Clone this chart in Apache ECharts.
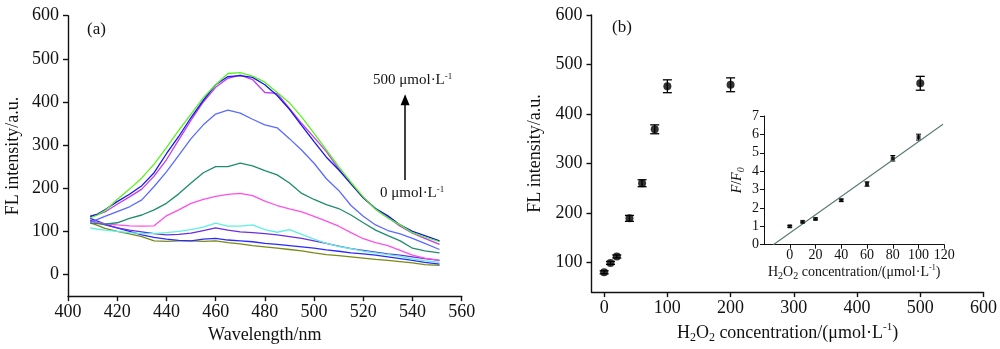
<!DOCTYPE html>
<html>
<head>
<meta charset="utf-8">
<script src="https://cdn.jsdelivr.net/npm/echarts@6/dist/echarts.min.js"></script>
<style>
  html, body { margin: 0; padding: 0; background: #fff; }
  #chart { width: 1000px; height: 349px; }
</style>
</head>
<body>
<div id="chart"></div>
<script>
// ---- Panel (a): fluorescence spectra ----
const wavelength = [409,412,415,420,425,430,435,440,445,450,455,460,465,470,475,480,485,490,495,500,505,510,515,520,525,530,535,540,545,551];

const olive     = [120,114,107,100,94,88,78,77,78,78,77,78,74,71,67,64,61,58,55,50,46,44,41,38,35,33,30,27,23,21];
const blueLow   = [130,124,117,108,100,92,86,82,79,78,82,84,80,78,76,72,70,67,64,61,57,54,50,48,45,41,37,33,28,24];
const violetLow = [126,120,115,108,103,99,95,92,93,96,102,108,103,99,97,95,92,88,84,78,72,66,60,56,52,48,45,41,37,33];
const cyan      = [108,105,103,100,97,95,95,97,100,104,110,119,112,112,115,104,98,104,93,82,72,65,60,54,50,46,42,36,32,28];
const pink      = [123,120,118,115,113,112,113,136,150,165,174,181,186,188,183,170,160,152,145,135,124,112,97,83,74,67,56,45,38,33];
const teal      = [119,118,117,120,130,138,150,165,187,212,236,250,250,258,252,241,231,212,188,174,162,153,138,120,103,90,78,61,55,50];
const skyBlue   = [121,128,135,146,157,173,204,238,276,315,347,372,381,374,360,347,340,315,288,258,222,195,160,135,115,102,94,84,72,58];
const magenta   = [136,139,145,163,180,198,228,266,312,358,400,434,455,462,452,422,420,385,350,318,285,245,210,178,152,132,112,96,84,70];
const blue      = [134,140,150,169,186,206,236,280,320,364,404,440,459,461,457,440,415,383,345,308,272,243,210,178,153,136,115,100,90,78];
const green     = [131,138,148,174,198,224,256,294,334,372,410,440,466,468,460,446,422,398,365,327,289,250,214,180,151,131,115,97,87,76];

// arrow between the two concentration notes (data coordinates of panel a)
const arrowFrom = [537, 219];
const arrowTo   = [537, 405];

// ---- Panel (b): peak intensity vs. H2O2 concentration ----
const concB   = [0, 10, 20, 40, 60, 80, 100, 200, 500];
const flB     = [80, 99, 112, 189, 260, 369, 456, 459, 462];
const flBErr  = [3, 3, 3, 6, 7, 9, 13, 14, 14];

// ---- Inset: F/F0 linear range ----
const concIn  = [0, 10, 20, 40, 60, 80, 100];
const ratioIn = [1.0, 1.24, 1.40, 2.42, 3.30, 4.70, 5.85];
const ratioErr= [0.05, 0.05, 0.05, 0.06, 0.12, 0.15, 0.16];
const fitLine = [[-12.8, 0], [119, 6.55]];

// tick labels
const yTicksA = [0, 100, 200, 300, 400, 500, 600];
const yTicksB = [100, 200, 300, 400, 500, 600];
const xTicksB = [0, 100, 200, 300, 400, 500, 600];
const xTicksIn = [0, 20, 40, 60, 80, 100, 120];

const FONT = '"Liberation Serif", "Times New Roman", serif';
const INK = '#111';

const spectra = [
  { name: 'olive', data: olive, color: '#7a8a14' },
  { name: 'blueLow', data: blueLow, color: '#2a2aff' },
  { name: 'violetLow', data: violetLow, color: '#6a2fe0' },
  { name: 'cyan', data: cyan, color: '#5ff0e4' },
  { name: 'pink', data: pink, color: '#ff4fe8' },
  { name: 'teal', data: teal, color: '#1f8c6e' },
  { name: 'skyBlue', data: skyBlue, color: '#5b6bff' },
  { name: 'magenta', data: magenta, color: '#c23cf0' },
  { name: 'blue', data: blue, color: '#1414ee' },
  { name: 'green', data: green, color: '#5cf21a' }
];

const axisLine = { show: true, onZero: false, lineStyle: { color: INK, width: 1.4 } };
const axisTick = { show: true, inside: false, length: 5, lineStyle: { color: INK, width: 1.4 } };
const labelStyle = (size, margin) => ({ color: INK, fontFamily: FONT, fontSize: size, margin: margin });

function errorBarSeries(xi, yi, rows, cap, width) {
  return {
    type: 'custom',
    xAxisIndex: xi, yAxisIndex: yi,
    silent: true,
    z: 3,
    data: rows,
    encode: { x: 0, y: 1 },
    renderItem: function (params, api) {
      const x = api.value(0), y = api.value(1), e = api.value(2);
      const top = api.coord([x, y + e]);
      const bot = api.coord([x, y - e]);
      const st = { stroke: '#000', lineWidth: width };
      return {
        type: 'group',
        children: [
          { type: 'line', shape: { x1: top[0], y1: top[1], x2: bot[0], y2: bot[1] }, style: st },
          { type: 'line', shape: { x1: top[0] - cap, y1: top[1], x2: top[0] + cap, y2: top[1] }, style: st },
          { type: 'line', shape: { x1: bot[0] - cap, y1: bot[1], x2: bot[0] + cap, y2: bot[1] }, style: st }
        ]
      };
    }
  };
}

const concRich = (size) => ({
  a: { fontFamily: FONT, fontSize: size, color: INK, lineHeight: size + 4 },
  b: { fontFamily: FONT, fontSize: Math.round(size * 0.68), color: INK, verticalAlign: 'bottom', lineHeight: size + 4 },
  c: { fontFamily: FONT, fontSize: Math.round(size * 0.6), color: INK, verticalAlign: 'top', lineHeight: size + 4 }
});
const concName = '{a|H}{b|2}{a|O}{b|2}{a| concentration/(μmol·L}{c|-1}{a|)}';

const series = [];
spectra.forEach(s => {
  series.push({
    type: 'line', name: s.name, xAxisIndex: 0, yAxisIndex: 0,
    data: wavelength.map((w, i) => [w, s.data[i]]),
    showSymbol: false, smooth: false, silent: true,
    lineStyle: { color: s.color, width: 1.3 },
    itemStyle: { color: s.color }
  });
});
series.push({
  type: 'line', xAxisIndex: 0, yAxisIndex: 0, data: [], silent: true,
  markLine: {
    silent: true, symbol: ['none', 'triangle'], symbolSize: [9, 11],
    lineStyle: { color: '#000', width: 1.5, type: 'solid' },
    label: { show: false },
    data: [[{ coord: arrowFrom }, { coord: arrowTo }]]
  }
});

series.push(errorBarSeries(1, 1, concB.map((c, i) => [c, flB[i], flBErr[i]]), 4.5, 1.3));
series.push({
  type: 'scatter', xAxisIndex: 1, yAxisIndex: 1, silent: true, z: 4,
  data: concB.map((c, i) => [c, flB[i]]),
  symbol: 'circle', symbolSize: 8, itemStyle: { color: '#000' }
});

series.push({
  type: 'line', xAxisIndex: 2, yAxisIndex: 2, silent: true,
  data: fitLine, showSymbol: false,
  lineStyle: { color: '#587876', width: 1.1 }
});
series.push(errorBarSeries(2, 2, concIn.map((c, i) => [c, ratioIn[i], ratioErr[i]]), 2.5, 1));
series.push({
  type: 'scatter', xAxisIndex: 2, yAxisIndex: 2, silent: true, z: 4,
  data: concIn.map((c, i) => [c, ratioIn[i]]),
  symbol: 'rect', symbolSize: 4, itemStyle: { color: '#000' }
});

const option = {
  animation: false,
  backgroundColor: '#fff',
  grid: [
    { left: 68, top: 15.7, width: 393.7, height: 281 },
    { left: 591.5, top: 15, width: 394.5, height: 282.3 },
    { left: 764, top: 116, width: 180.3, height: 128.7 }
  ],
  xAxis: [
    {
      type: 'value', gridIndex: 0, min: 400, max: 560, interval: 20,
      axisLine, axisTick, splitLine: { show: false },
      axisLabel: labelStyle(18, 7),
      name: 'Wavelength/nm', nameLocation: 'middle', nameGap: 28,
      nameTextStyle: { fontFamily: FONT, fontSize: 18, color: INK }
    },
    {
      type: 'value', gridIndex: 1, min: -20, max: 600,
      axisLine, splitLine: { show: false },
      axisTick: Object.assign({ customValues: xTicksB }, axisTick),
      axisLabel: Object.assign({ customValues: xTicksB }, labelStyle(18, 7)),
      name: concName, nameLocation: 'middle', nameGap: 28,
      nameTextStyle: { rich: concRich(18) }
    },
    {
      type: 'value', gridIndex: 2, min: -20, max: 120,
      axisLine: { show: true, onZero: false, lineStyle: { color: INK, width: 1 } },
      splitLine: { show: false },
      axisTick: { show: true, customValues: xTicksIn, length: 4, lineStyle: { color: INK, width: 1 } },
      axisLabel: Object.assign({ customValues: xTicksIn }, labelStyle(14, 4)),
      name: concName, nameLocation: 'middle', nameGap: 15,
      nameTextStyle: { rich: concRich(14) }
    }
  ],
  yAxis: [
    {
      type: 'value', gridIndex: 0, min: -50, max: 600,
      axisLine, splitLine: { show: false },
      axisTick: Object.assign({ customValues: yTicksA }, axisTick),
      axisLabel: Object.assign({ customValues: yTicksA }, labelStyle(18, 9)),
      name: 'FL intensity/a.u.', nameLocation: 'middle', nameGap: 46, nameRotate: 90,
      nameTextStyle: { fontFamily: FONT, fontSize: 18, color: INK }
    },
    {
      type: 'value', gridIndex: 1, min: 40, max: 600,
      axisLine, splitLine: { show: false },
      axisTick: Object.assign({ customValues: yTicksB }, axisTick),
      axisLabel: Object.assign({ customValues: yTicksB }, labelStyle(18, 9)),
      name: 'FL intensity/a.u.', nameLocation: 'middle', nameGap: 47, nameRotate: 90,
      nameTextStyle: { fontFamily: FONT, fontSize: 18, color: INK }
    },
    {
      type: 'value', gridIndex: 2, min: 0, max: 7, interval: 1,
      axisLine: { show: true, onZero: false, lineStyle: { color: INK, width: 1 } },
      splitLine: { show: false },
      axisTick: { show: true, length: 4, lineStyle: { color: INK, width: 1 } },
      axisLabel: labelStyle(14, 5),
      name: '{i|F}{a|/}{i|F}{s|0}', nameLocation: 'middle', nameGap: 18, nameRotate: 90,
      nameTextStyle: {
        rich: {
          i: { fontFamily: FONT, fontStyle: 'italic', fontSize: 14, color: INK, lineHeight: 18 },
          a: { fontFamily: FONT, fontSize: 14, color: INK, lineHeight: 18 },
          s: { fontFamily: FONT, fontStyle: 'italic', fontSize: 10, color: INK, verticalAlign: 'bottom', lineHeight: 18 }
        }
      }
    }
  ],
  graphic: [
    { type: 'text', left: 87, top: 21, style: { text: '(a)', font: '17px ' + FONT, fill: INK } },
    { type: 'text', left: 612, top: 19, style: { text: '(b)', font: '17px ' + FONT, fill: INK } },
    {
      type: 'text', left: 373, top: 72,
      style: {
        text: '{a|500 μmol·L}{s|-1}',
        rich: {
          a: { fontFamily: FONT, fontSize: 15, fill: INK, lineHeight: 17 },
          s: { fontFamily: FONT, fontSize: 9, fill: INK, verticalAlign: 'top', lineHeight: 17 }
        }
      }
    },
    {
      type: 'text', left: 380, top: 185,
      style: {
        text: '{a|0 μmol·L}{s|-1}',
        rich: {
          a: { fontFamily: FONT, fontSize: 15, fill: INK, lineHeight: 17 },
          s: { fontFamily: FONT, fontSize: 9, fill: INK, verticalAlign: 'top', lineHeight: 17 }
        }
      }
    }
  ],
  series: series
};

const chart = echarts.init(document.getElementById('chart'), null, { renderer: 'canvas' });
chart.setOption(option);
</script>
</body>
</html>
